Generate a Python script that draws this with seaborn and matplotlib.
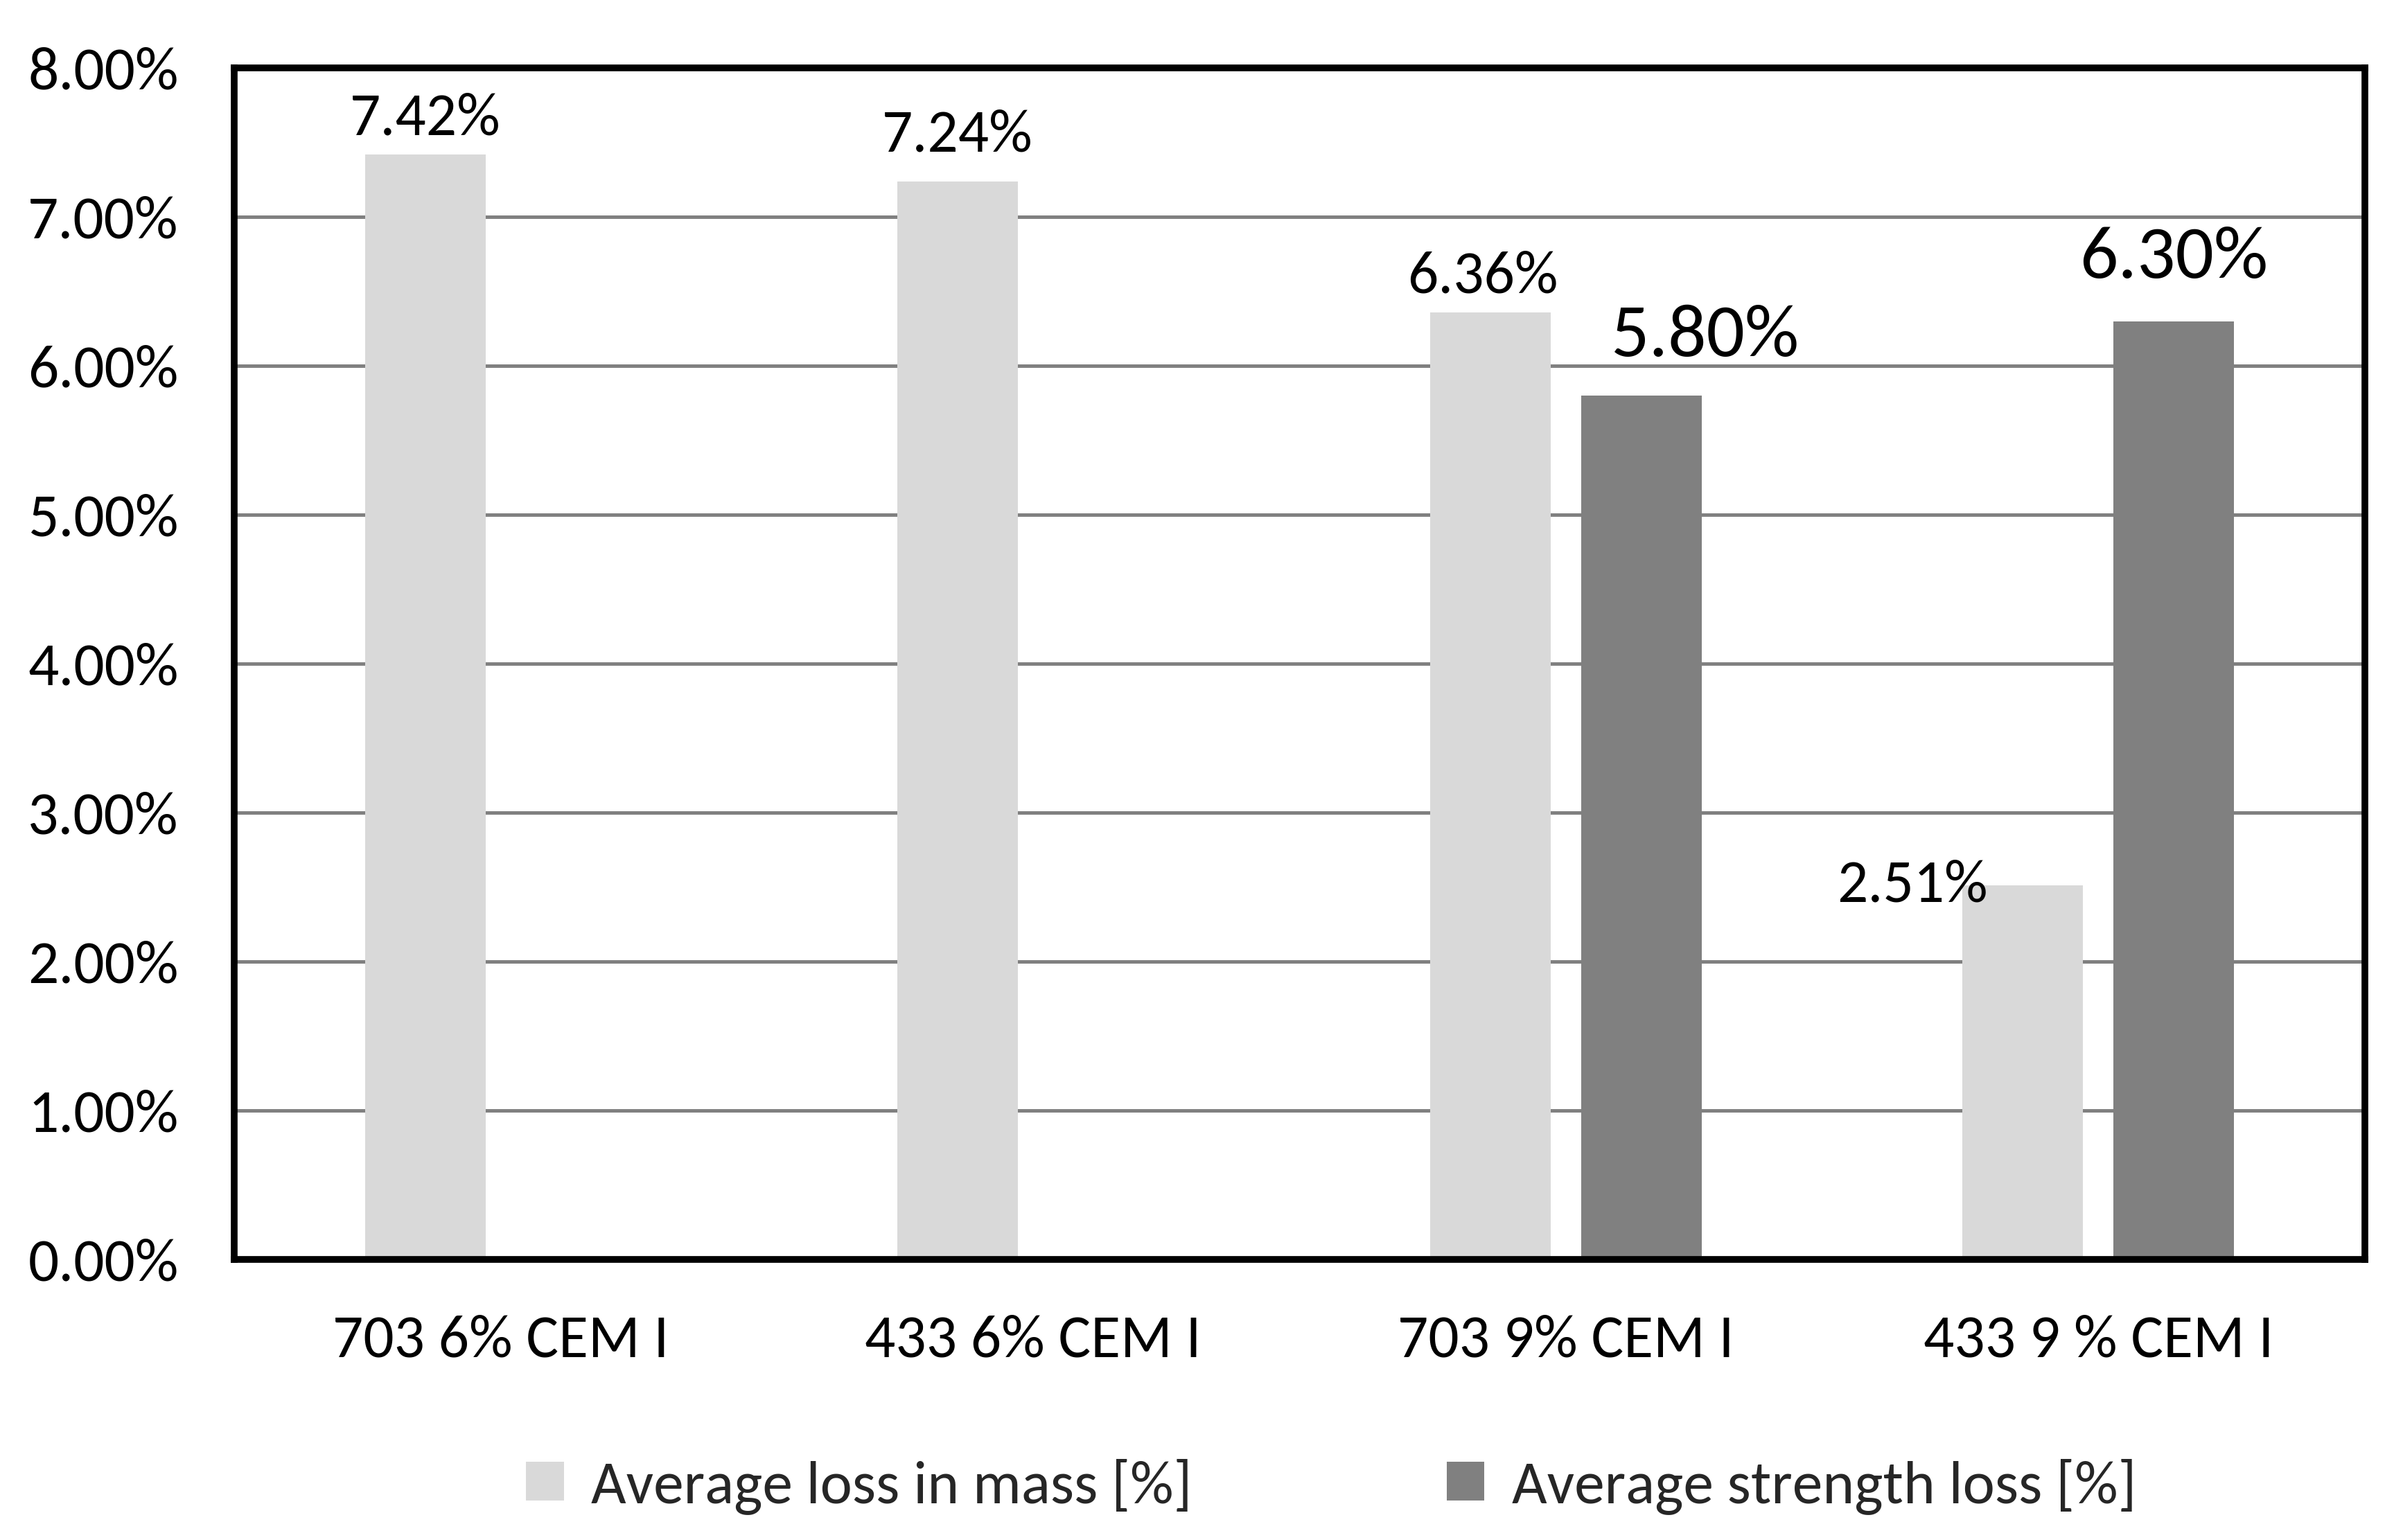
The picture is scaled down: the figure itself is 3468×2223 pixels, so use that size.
import numpy as np
import pandas as pd
import matplotlib
matplotlib.use("Agg")
import matplotlib.pyplot as plt
from matplotlib import font_manager
from matplotlib.ticker import FuncFormatter
from matplotlib.patches import Patch
import seaborn as sns

# ---- data ----
categories = ["703 6% CEM I", "433 6% CEM I", "703 9% CEM I", "433 9 % CEM I"]
series_names = ["Average loss in mass [%]", "Average strength loss [%]"]
mass_loss = [7.42, 7.24, 6.36, 2.51]
strength_loss = [np.nan, np.nan, 5.80, 6.30]
y_ticks = [0, 1, 2, 3, 4, 5, 6, 7, 8]

colors = ["#D9D9D9", "#808080"]

df = pd.DataFrame({
    "category": categories * 2,
    "series": [series_names[0]] * 4 + [series_names[1]] * 4,
    "value": mass_loss + strength_loss,
})

sns.set_theme(style="white")
avail = {f.name for f in font_manager.fontManager.ttflist}
if "Carlito" in avail:
    fam, base = "Carlito", 63
else:
    fam, base = "Lato", 56
plt.rcParams["font.family"] = [fam, "DejaVu Sans"]

fig, ax = plt.subplots(figsize=(34.68, 22.23), dpi=100)
fig.subplots_adjust(left=0.0976, right=0.984, top=0.9557, bottom=0.1822)

sns.barplot(data=df, x="category", y="value", hue="series", order=categories,
            hue_order=series_names, palette=colors, width=0.567, gap=0.2,
            saturation=1, errorbar=None, legend=False, ax=ax, zorder=3,
            linewidth=0)

ax.set_ylim(y_ticks[0], y_ticks[-1])
ax.set_xlim(-0.5, 3.5)
ax.set_yticks(y_ticks)
ax.yaxis.set_major_formatter(FuncFormatter(lambda v, p: f"{v:.2f}%"))
ax.set_xlabel("")
ax.set_ylabel("")
ax.grid(axis="y", color="#808080", linewidth=3.6, zorder=0)
ax.grid(axis="x", visible=False)
for s in ax.spines.values():
    s.set_visible(True)
    s.set_color("black")
    s.set_linewidth(7)
    s.set_zorder(5)
ax.tick_params(axis="y", length=0, pad=58, labelsize=base, colors="black")
ax.tick_params(axis="x", length=0, pad=57, labelsize=base, colors="black")

# data labels: (dx, dy) offsets in points, and font scale per series
label_offsets = {
    (0, 0): (0, 37), (0, 1): (0, 48), (0, 2): (-8, 37), (0, 3): (-115, 0),
    (1, 2): (66, 62), (1, 3): (0, 66),
}
label_scale = [1.0, 1.25]
for si, cont in enumerate(ax.containers):
    for bar in cont:
        h = bar.get_height()
        if not np.isfinite(h) or h == 0:
            continue
        cx = bar.get_x() + bar.get_width() / 2
        ci = int(round(cx))
        dx, dy = label_offsets.get((si, ci), (0, 40))
        ax.annotate(f"{h:.2f}%", xy=(cx, h), xytext=(dx, dy),
                    textcoords="offset points", ha="center", va="center",
                    fontsize=base * label_scale[si], color="black", zorder=6)

handles = [Patch(facecolor=c, edgecolor="none") for c in colors]
fig.legend(handles, series_names, loc="center", bbox_to_anchor=(0.554, 0.035),
           ncol=2, frameon=False, fontsize=base, handlelength=0.62,
           handleheight=0.62, handletextpad=0.45, columnspacing=4.2)

fig.savefig("out.png", dpi=100, facecolor="white")
